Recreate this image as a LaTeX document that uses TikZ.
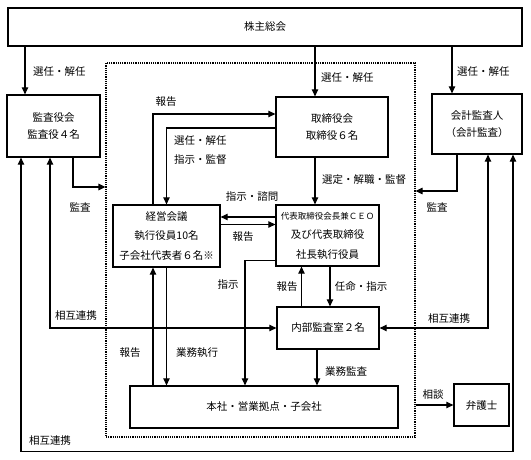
\documentclass[tikz,border=0pt]{standalone}
\usepackage{fontspec}
\setmainfont{Noto Sans CJK JP}
\usetikzlibrary{arrows.meta}

\begin{document}
\begin{tikzpicture}[x=1pt,y=-1pt,
	hako/.style={draw,line width=1.3pt,inner sep=0pt,align=center,font=\fontsize{10.5}{16.5}\selectfont},
	moji/.style={inner sep=0pt,font=\fontsize{10.5}{12}\selectfont},
	ya/.style={line width=1.2pt,-{Triangle[length=7pt,width=6.5pt]}},
	ryoya/.style={line width=1.2pt,{Triangle[length=7pt,width=6.5pt]}-{Triangle[length=7pt,width=6.5pt]}}]
	\useasboundingbox (0,0) rectangle (531,460);

	% Marco punteado
	\node[draw,densely dotted,line width=1.2pt,minimum width=309pt,minimum height=374pt] (waku) at (260.5,250) {};

	% Cajas
	\node[hako,minimum width=514pt,minimum height=38pt] (soukai) at (265,27) {株主総会};
	\node[hako,minimum width=93pt,minimum height=62pt] (kansayaku) at (53.5,126) {監査役会\\監査役４名};
	\node[hako,minimum width=112pt,minimum height=60pt] (torishimari) at (332,127) {取締役会\\取締役６名};
	\node[hako,minimum width=90pt,minimum height=60pt] (kaikei) at (477,124) {会計監査人\\（会計監査）};
	\node[hako,minimum width=107pt,minimum height=62pt,font=\fontsize{10.5}{19.5}\selectfont] (keiei) at (166.5,236) {経営会議\\執行役員10名\\子会社代表者６名※};
	\node[hako,minimum width=103pt,minimum height=61pt,font=\fontsize{10.5}{19.5}\selectfont] (daihyo) at (327.5,235.5) {{\fontsize{8.5}{10}\selectfont 代表取締役会長兼ＣＥＯ}\\及び代表取締役\\社長執行役員};
	\node[hako,minimum width=102pt,minimum height=42pt] (naibu) at (328,328) {内部監査室２名};
	\node[hako,minimum width=268pt,minimum height=42pt] (honsha) at (264,407) {本社・営業拠点・子会社};
	\node[hako,minimum width=55pt,minimum height=42pt] (bengoshi) at (481.5,405) {弁護士};

	% Flechas desde el 株主総会
	\draw[ya] ([xshift=-28.5pt]kansayaku.north |- soukai.south) -- ([xshift=-28.5pt]kansayaku.north);
	\draw[ya] ([xshift=-17pt]torishimari.north |- soukai.south) -- ([xshift=-17pt]torishimari.north);
	\draw[ya] ([xshift=-25pt]kaikei.north |- soukai.south) -- ([xshift=-25pt]kaikei.north);
	\node[moji,anchor=west] (sennin1) at (33,72) {選任・解任};
	\node[moji,anchor=west] (sennin2) at (321,78) {選任・解任};
	\node[moji,anchor=west] (sennin3) at (457,72) {選任・解任};

	% Auditoria
	\draw[ya] ([xshift=19.5pt]kansayaku.south) |- ([yshift=63pt]waku.west);
	\draw[ya] ([xshift=-20pt]kaikei.south) |- ([yshift=59pt]waku.east);
	\node[moji] (kansa1) at (80,207) {監査};
	\node[moji] (kansa2) at (437,207) {監査};

	% Entre 取締役会 y 経営会議
	\draw[ya] ([xshift=-13.5pt]keiei.north) |- ([yshift=13pt]torishimari.west);
	\draw[ya] ([yshift=-1pt]torishimari.west) -| (keiei.north);
	\node[moji] (houkoku1) at (166,102) {報告};
	\node[moji,anchor=west] (sennin4) at (174,141) {選任・解任};
	\node[moji,anchor=west] (shiji1) at (174,160) {指示・監督};

	\draw[ya] ([xshift=-17pt]torishimari.south) -- ([xshift=-17pt]torishimari.south |- daihyo.north);
	\node[moji,anchor=west] (sentei) at (322,180) {選定・解職・監督};

	% Entre 経営会議 y 代表
	\draw[ya] ([yshift=18.5pt]daihyo.west) -- ([yshift=18.5pt]daihyo.west -| keiei.east);
	\draw[ya] ([yshift=11.5pt]keiei.east) -- ([yshift=11.5pt]keiei.east -| daihyo.west);
	\node[moji] (shimon) at (252,197) {指示・諮問};
	\node[moji] (houkoku2) at (243,237) {報告};

	% Hacia el 本社
	\draw[ya] ([yshift=-25pt]daihyo.west) -| ([xshift=-19pt]honsha.north);
	\draw[ya] (keiei.south) -- (keiei.south |- honsha.north);
	\draw[ya] ([xshift=-13.5pt]keiei.south |- honsha.north) -- ([xshift=-13.5pt]keiei.south);
	\node[moji] (shiji2) at (228,285) {指示};
	\node[moji] (houkoku3) at (130,353) {報告};
	\node[moji] (gyoumu1) at (197,353) {業務執行};

	% 内部監査室
	\draw[ya] ([xshift=2.5pt]daihyo.south) -- ([xshift=2.5pt]daihyo.south |- naibu.north);
	\draw[ya] ([xshift=-26pt]daihyo.south |- naibu.north) -- ([xshift=-26pt]daihyo.south);
	\draw[ya] ([xshift=-11pt]naibu.south) -- ([xshift=-11pt]naibu.south |- honsha.north);
	\node[moji] (houkoku4) at (287,287) {報告};
	\node[moji] (ninmei) at (361,287) {任命・指示};
	\node[moji] (gyoumu2) at (346,372) {業務監査};

	% Coordinacion mutua
	\draw[ryoya] ([xshift=-3.5pt]kansayaku.south) |- (naibu.west);
	\draw[ryoya] ([xshift=11pt]kaikei.south) |- (naibu.east);
	\draw[ryoya] ([xshift=-32.5pt]kansayaku.south) -- ++(0,294) -| ([xshift=36pt]kaikei.south);
	\node[moji] (renkei1) at (76,316) {相互連携};
	\node[moji] (renkei2) at (449,319) {相互連携};
	\node[moji] (renkei3) at (50,441) {相互連携};

	% Abogado
	\draw[ya] (waku.east |- bengoshi.west) -- (bengoshi.west);
	\node[moji] (soudan) at (433,395) {相談};
\end{tikzpicture}
\end{document}
